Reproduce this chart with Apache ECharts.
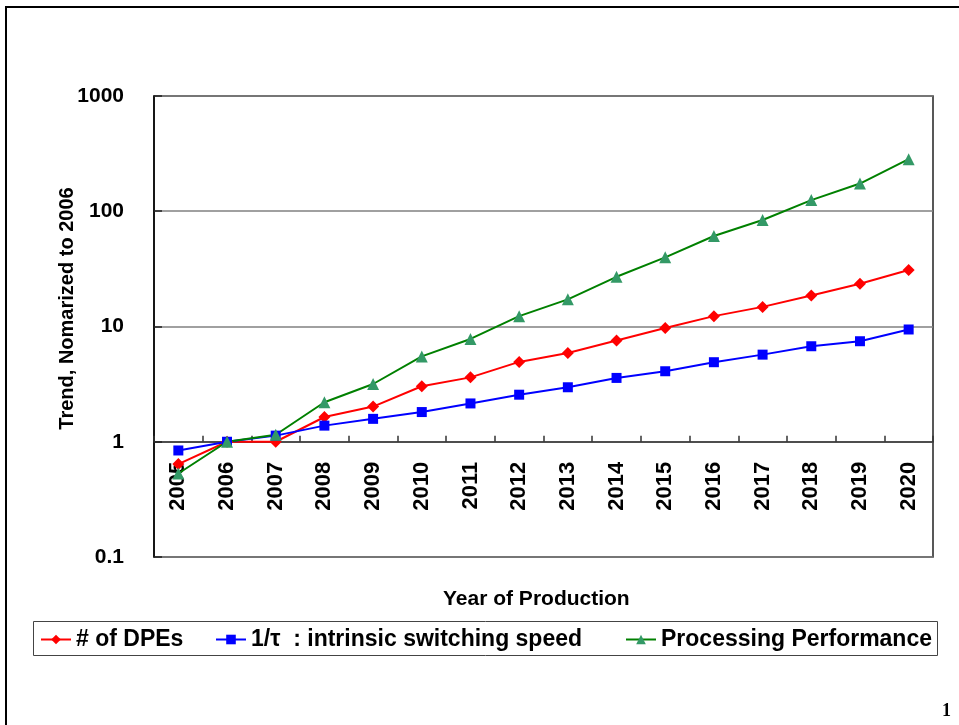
<!DOCTYPE html>
<html>
<head>
<meta charset="utf-8">
<title>Trend, Nomarized to 2006</title>
<script src="https://cdn.jsdelivr.net/npm/echarts@6/dist/echarts.min.js"></script>
<style>
  html, body { margin: 0; padding: 0; background: #fff; }
  #chart { width: 959px; height: 725px; }
</style>
</head>
<body>
<div id="chart"></div>
<script>
// data
const years = ["2005", "2006", "2007", "2008", "2009", "2010", "2011", "2012",
               "2013", "2014", "2015", "2016", "2017", "2018", "2019", "2020"];
const dpeCount = [0.64, 1, 1.0, 1.64, 2.02, 3.03, 3.62, 4.93, 5.9, 7.55, 9.7, 12.3, 14.8, 18.6, 23.5, 30.9];
const switchSpeed = [0.84, 1, 1.13, 1.38, 1.58, 1.81, 2.15, 2.56, 2.97, 3.58, 4.09, 4.9, 5.7, 6.74, 7.45, 9.42];
const perfTrend = [0.53, 1, 1.15, 2.2, 3.17, 5.5, 7.8, 12.3, 17.2, 27, 39.8, 61, 84, 125, 174, 283];
const seriesNames = ["# of DPEs", "1/\u03c4  : intrinsic switching speed", "Processing Performance"];
const yMin = 0.1, yMax = 1000, xCross = 1;

// layout
const gridTop = 96, gridBottom = 168, gridLeft = 154, gridRight = 26;
const gridHeight = 725 - gridTop - gridBottom;
// the category axis crosses the log axis at 1
const xOffset = -gridHeight * (Math.log10(xCross) - Math.log10(yMin)) / (Math.log10(yMax) - Math.log10(yMin));

const font = '"Liberation Sans", Arial, sans-serif';
// legend item left positions, one legend per series so the spacing matches
const legendLefts = [40, 215, 625];

const chart = echarts.init(document.getElementById("chart"));

const legends = seriesNames.map((name, i) => ({
  left: legendLefts[i],
  top: 628,
  padding: 0,
  itemWidth: 30,
  itemHeight: 12,
  data: [name],
  textStyle: {
    fontFamily: font,
    fontWeight: "bold",
    fontSize: 23,
    color: "#000"
  }
}));

const option = {
  animation: false,
  backgroundColor: "#fff",
  grid: {
    top: gridTop,
    bottom: gridBottom,
    left: gridLeft,
    right: gridRight,
    show: true,
    borderColor: "#222",
    borderWidth: 1.5
  },
  legend: legends,
  xAxis: {
    type: "category",
    data: years,
    boundaryGap: true,
    position: "bottom",
    offset: xOffset,
    axisLine: { onZero: false, lineStyle: { color: "#333", width: 1.5 } },
    axisTick: { show: true, inside: true, length: 6, lineStyle: { color: "#333", width: 1.5 } },
    axisLabel: {
      interval: 0,
      rotate: 90,
      margin: 20,
      padding: [8, 0, 0, 0],
      fontFamily: font,
      fontWeight: "bold",
      fontSize: 22,
      color: "#000"
    },
    splitLine: { show: false }
  },
  yAxis: {
    type: "log",
    logBase: 10,
    min: yMin,
    max: yMax,
    name: "Trend, Nomarized to 2006",
    nameLocation: "middle",
    nameGap: 77,
    nameMoveOverlap: false,
    nameTextStyle: {
      fontFamily: font,
      fontWeight: "bold",
      fontSize: 20,
      color: "#000",
      padding: [0, 0, 0, 36]
    },
    axisLine: { show: true, lineStyle: { color: "#000", width: 1.5 } },
    axisTick: { show: true, inside: true, length: 8, lineStyle: { color: "#222", width: 1.5 } },
    axisLabel: {
      margin: 30,
      formatter: function (v) { return String(v); },
      fontFamily: font,
      fontWeight: "bold",
      fontSize: 21,
      color: "#000"
    },
    splitLine: { show: true, lineStyle: { color: "#808080", width: 1.5 } }
  },
  series: [
    {
      name: seriesNames[0],
      type: "line",
      data: dpeCount,
      symbol: "diamond",
      symbolSize: 12,
      lineStyle: { color: "#ff0000", width: 2 },
      itemStyle: { color: "#ff0000" }
    },
    {
      name: seriesNames[1],
      type: "line",
      data: switchSpeed,
      symbol: "rect",
      symbolSize: 10,
      lineStyle: { color: "#0000ff", width: 2 },
      itemStyle: { color: "#0000ff" }
    },
    {
      name: seriesNames[2],
      type: "line",
      data: perfTrend,
      symbol: "triangle",
      symbolSize: 12,
      lineStyle: { color: "#008000", width: 2 },
      itemStyle: { color: "#339966" }
    }
  ],
  graphic: [
    {
      type: "rect",
      silent: true,
      shape: { x: 6, y: 7, width: 1000, height: 1000 },
      style: { fill: "none", stroke: "#000", lineWidth: 2 }
    },
    {
      // legend frame
      type: "rect",
      silent: true,
      shape: { x: 33.5, y: 621.5, width: 904, height: 34 },
      style: { fill: "none", stroke: "#444", lineWidth: 1 }
    },
    {
      type: "text",
      silent: true,
      left: 543 - 100,
      top: 589,
      style: {
        text: "Year of Production",
        width: 200,
        align: "center",
        fontFamily: font,
        fontWeight: "bold",
        fontSize: 21,
        fill: "#000"
      }
    },
    {
      type: "text",
      silent: true,
      left: 942,
      top: 702,
      style: {
        text: "1",
        fontFamily: '"Liberation Serif", "Times New Roman", serif',
        fontWeight: "bold",
        fontSize: 18,
        fill: "#000"
      }
    }
  ]
};

chart.setOption(option);
</script>
</body>
</html>
